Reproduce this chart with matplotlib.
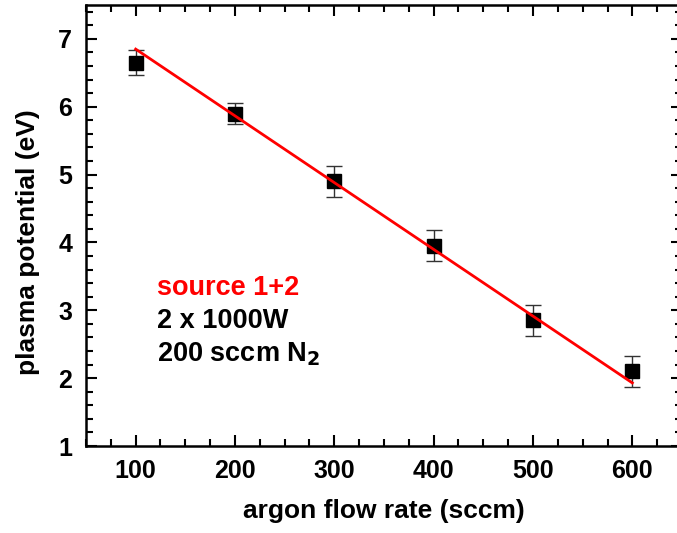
import numpy as np
import matplotlib
matplotlib.use("Agg")
import matplotlib.pyplot as plt
from matplotlib.ticker import MultipleLocator

# Données
flow = [100, 200, 300, 400, 500, 600]
potential = [6.65, 5.90, 4.90, 3.95, 2.85, 2.10]
err = [0.18, 0.15, 0.23, 0.23, 0.23, 0.23]

# Droite d'ajustement (extrémités lues)
fit_x = [100, 600]
fit_y = [6.85, 1.93]

plt.rcParams['font.family'] = ['Liberation Sans', 'DejaVu Sans']
plt.rcParams['font.weight'] = 'bold'

fig = plt.figure(figsize=(6.77, 5.33), dpi=100)
ax = fig.add_axes([86 / 677, 87 / 533, 596 / 677, 441 / 533])

ax.errorbar(flow, potential, yerr=err, fmt='s', color='black', ms=10,
            ecolor='#333333', elinewidth=1, capsize=6, capthick=1, zorder=2)
ax.plot(fit_x, fit_y, color='red', lw=2, zorder=3)

ax.set_xlim(50, 650)
ax.set_ylim(1, 7.5)
ax.xaxis.set_major_locator(MultipleLocator(100))
ax.xaxis.set_minor_locator(MultipleLocator(25))
ax.yaxis.set_major_locator(MultipleLocator(1))
ax.yaxis.set_minor_locator(MultipleLocator(0.2))

ax.tick_params(which='both', direction='in', top=True, right=True, width=1.5)
ax.tick_params(which='major', length=8, labelsize=18)
ax.tick_params(axis='x', which='major', pad=9)
ax.tick_params(axis='y', which='major', pad=10)
ax.tick_params(which='minor', length=5)
for s in ax.spines.values():
    s.set_linewidth(1.8)

ax.set_xlabel("argon flow rate (sccm)", fontsize=19, fontweight='bold')
ax.set_ylabel("plasma potential (eV)", fontsize=19, fontweight='bold')
ax.xaxis.set_label_coords(0.5, -0.148)
ax.yaxis.set_label_coords(-0.097, 0.463)
ax.xaxis.label.set_va('center')
ax.yaxis.label.set_va('center')

# Annotations
ax.text(121, 3.33, "source 1+2", color='red', fontsize=19.5, fontweight='bold', va='center')
ax.text(121, 2.84, "2 x 1000W", color='black', fontsize=19.5, fontweight='bold', va='center')
ax.text(121, 2.35, "200 sccm N$_\\mathbf{2}$", color='black', fontsize=19.5, fontweight='bold', va='center')

plt.savefig("out.png", dpi=100)
